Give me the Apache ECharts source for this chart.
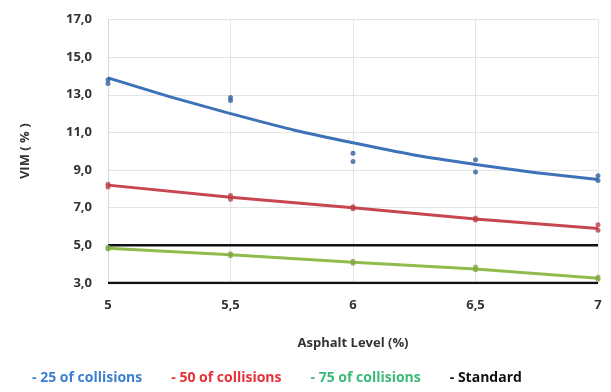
<!DOCTYPE html>
<html><head><meta charset="utf-8">
<script src="https://cdn.jsdelivr.net/npm/echarts@6/dist/echarts.min.js"></script>
<style>html,body{margin:0;padding:0;background:#fff}#c{width:611px;height:392px}</style>
</head><body><div id="c"></div>
<script>
var xTicks = [5, 5.5, 6, 6.5, 7];
var pts25 = [[5,13.6],[5,13.8],[5.5,12.7],[5.5,12.85],[6,9.9],[6,9.45],[6.5,9.55],[6.5,8.9],[7,8.7],[7,8.45]];
var trend25 = [13.9, 12.0, 10.45, 9.3, 8.5];
var pts50 = [[5,8.25],[5,8.1],[5.5,7.65],[5.5,7.45],[6,7.05],[6,6.95],[6.5,6.45],[6.5,6.35],[7,6.1],[7,5.8]];
var trend50 = [8.2, 7.55, 7.0, 6.4, 5.9];
var pts75 = [[5,4.9],[5,4.8],[5.5,4.55],[5.5,4.45],[6,4.15],[6,4.05],[6.5,3.85],[6.5,3.7],[7,3.3],[7,3.2]];
var trend75 = [4.85, 4.5, 4.1, 3.75, 3.25];
var standardHigh = [5, 5, 5, 5, 5];
var standardLow = [3, 3, 3, 3, 3];
var names = ['25 of collisions', '50 of collisions', '75 of collisions', 'Standard'];

function pair(vals){ return xTicks.map(function(x,i){ return [x, vals[i]]; }); }
var chart = echarts.init(document.getElementById('c'));
var fmt = function(v){ return String(v).replace('.', ','); };
chart.setOption({
  animation: false,
  grid: {left: 108, right: 13, top: 19.5, bottom: 109},
  xAxis: {
    type: 'value', min: 5, max: 7, interval: 0.5,
    name: 'Asphalt Level (%)', nameLocation: 'middle', nameGap: 54,
    nameTextStyle: {fontFamily: 'Open Sans', fontWeight: 'bold', fontSize: 13, color: '#333'},
    axisLine: {show: false}, axisTick: {show: false},
    axisLabel: {formatter: fmt, margin: 16, fontFamily: 'Open Sans', fontWeight: 'bold', fontSize: 13, color: '#333'},
    splitLine: {show: true, lineStyle: {color: '#e4e4e4'}}
  },
  yAxis: {
    type: 'value', min: 3, max: 17, interval: 2,
    name: 'VIM ( % )', nameLocation: 'middle', nameGap: 76, nameRotate: 90,
    nameTextStyle: {fontFamily: 'Open Sans', fontWeight: 'bold', fontSize: 13, color: '#333'},
    axisLine: {show: true, lineStyle: {color: '#d9d9d9'}}, axisTick: {show: false},
    axisLabel: {formatter: function(v){ return v.toFixed(1).replace('.', ','); }, margin: 16, fontFamily: 'Open Sans', fontWeight: 'bold', fontSize: 13, color: '#333'},
    splitLine: {show: true, lineStyle: {color: '#e4e4e4'}}
  },
  legend: {
    bottom: 2, left: 22, itemGap: 24, icon: 'rect', itemWidth: 0, itemHeight: 0,
    formatter: function(n){ return '- ' + n; },
    data: [
      {name: names[0], textStyle: {color: '#3d7fd0'}},
      {name: names[1], textStyle: {color: '#e8303a'}},
      {name: names[2], textStyle: {color: '#3db878'}},
      {name: names[3], textStyle: {color: '#111'}}
    ],
    textStyle: {fontFamily: 'Open Sans', fontSize: 14, fontWeight: 'bold'}
  },
  series: [
    {name: names[0], type: 'line', smooth: true, showSymbol: false, data: pair(trend25), lineStyle: {color: '#3e72b8', width: 3}, itemStyle: {color: '#3e72b8'}, z: 3},
    {name: names[1], type: 'line', showSymbol: false, data: pair(trend50), lineStyle: {color: '#c8464f', width: 3}, itemStyle: {color: '#c8464f'}, z: 3},
    {name: names[2], type: 'line', showSymbol: false, data: pair(trend75), lineStyle: {color: '#8fbc4c', width: 3}, itemStyle: {color: '#8fbc4c'}, z: 3},
    {name: names[3], type: 'line', showSymbol: false, data: pair(standardHigh), lineStyle: {color: '#111', width: 2.5}, itemStyle: {color: '#111'}, z: 2},
    {name: names[3], type: 'line', showSymbol: false, data: pair(standardLow), lineStyle: {color: '#111', width: 2.5}, itemStyle: {color: '#111'}, z: 2},
    {name: 'p25', type: 'scatter', data: pts25, symbolSize: 5, itemStyle: {color: '#35609e'}, z: 4},
    {name: 'p50', type: 'scatter', data: pts50, symbolSize: 5, itemStyle: {color: '#b84048'}, z: 4},
    {name: 'p75', type: 'scatter', data: pts75, symbolSize: 5, itemStyle: {color: '#7fa844'}, z: 4}
  ]
});
</script></body></html>
